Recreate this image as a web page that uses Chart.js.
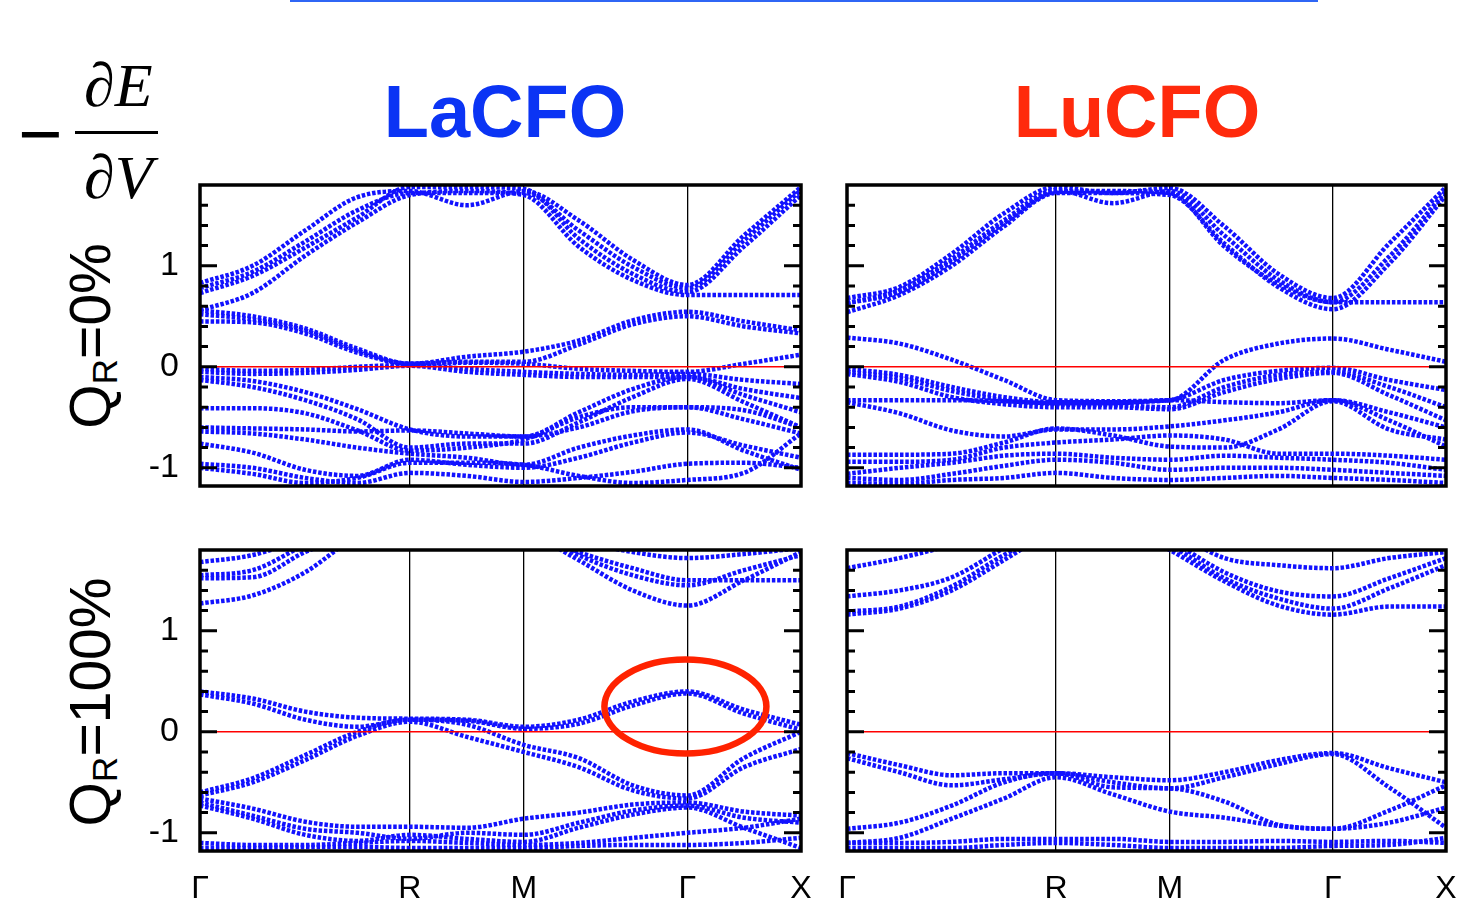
<!DOCTYPE html>
<html><head><meta charset="utf-8">
<script src="https://cdn.jsdelivr.net/npm/chart.js@4.4.1/dist/chart.umd.min.js"></script>
<style>
html,body{margin:0;padding:0;width:1464px;height:901px;overflow:hidden;background:#fff;font-family:"Liberation Sans",Arial,sans-serif;}
canvas{position:absolute;}
.t{position:absolute;white-space:nowrap;line-height:1;}
.title{font-weight:bold;font-size:74px;transform:translateX(-50%);}
.serif{font-family:"Liberation Serif","Times New Roman",serif;font-style:italic;font-size:62px;}
.rot{font-size:57px;transform:translate(-50%,-50%) rotate(-90deg);}
.rot sub{font-size:0.62em;line-height:0;vertical-align:-0.22em;}
</style></head><body>
<div style="position:absolute;left:290px;top:0;width:1028px;height:2px;background:#2f66f5"></div>
<div class="t title" style="left:505px;top:75px;color:#0b34f4">LaCFO</div>
<div class="t title" style="left:1137px;top:75px;color:#ff2a0c">LuCFO</div>
<div class="t" style="left:18px;top:96px;font-size:76px;">−</div>
<div class="t serif" style="left:84px;top:54px;">∂E</div>
<div style="position:absolute;left:75px;top:131px;width:83px;height:0;border-top:3.5px solid #000"></div>
<div class="t serif" style="left:84px;top:146px;">∂V</div>
<div class="t rot" style="left:90px;top:336px;">Q<sub>R</sub>=0%</div>
<div class="t rot" style="left:90px;top:702px;">Q<sub>R</sub>=100%</div>

<canvas id="cTL" width="700" height="321" style="left:120px;top:175px;width:700px;height:321px"></canvas>
<canvas id="cTR" width="637" height="321" style="left:827px;top:175px;width:637px;height:321px"></canvas>
<canvas id="cBL" width="700" height="370" style="left:120px;top:540px;width:700px;height:370px"></canvas>
<canvas id="cBR" width="637" height="370" style="left:827px;top:540px;width:637px;height:370px"></canvas>

<script>
// ---- k-path (fractional distance along Γ-R-M-Γ-X) ----
const kPoints = [0, 0.0875, 0.175, 0.262, 0.349, 0.444, 0.539, 0.63, 0.72, 0.811, 0.905, 1.0];
const kTicks  = [0, 0.349, 0.539, 0.811, 1.0];
const kLabels = ["Γ", "R", "M", "Γ", "X"];
const yMajorTicks = [-1, 0, 1];
const yMinorTicks = [-1, -0.8, -0.6, -0.4, -0.2, 0, 0.2, 0.4, 0.6, 0.8, 1, 1.2, 1.4, 1.6];
const fermiLevel = 0;
const highlight = {k: 0.811, e: 0.25}; // circled band maximum (LaCFO, QR=100%)

// ---- band energies (eV) at kPoints ----
const bandsLaQ0 = [
  [0.83, 1.00, 1.35, 1.68, 1.74, 1.60, 1.74, 1.45, 1.06, 0.81, 1.30, 1.78],
  [0.78, 0.94, 1.24, 1.55, 1.72, 1.72, 1.72, 1.35, 0.99, 0.78, 1.25, 1.75],
  [0.73, 0.90, 1.18, 1.48, 1.78, 1.78, 1.76, 1.27, 0.92, 0.74, 1.19, 1.70],
  [0.56, 0.73, 1.10, 1.43, 1.70, 1.74, 1.70, 1.19, 0.86, 0.71, 0.71, 0.71],
  [0.56, 0.50, 0.38, 0.18, 0.03, 0.10, 0.15, 0.26, 0.46, 0.545, 0.45, 0.36],
  [0.45, 0.44, 0.33, 0.14, 0.03, 0.05, 0.05, 0.22, 0.42, 0.50, 0.40, 0.33],
  [0.52, 0.47, 0.36, 0.16, 0.03, 0.04, 0.03, -0.02, -0.04, -0.05, 0.03, 0.12],
  [-0.02, -0.04, -0.03, 0.00, 0.02, -0.02, -0.05, -0.07, -0.08, -0.07, -0.13, -0.17],
  [-0.05, -0.07, -0.06, -0.03, 0.01, -0.05, -0.08, -0.10, -0.10, -0.10, -0.22, -0.31],
  [-0.10, -0.14, -0.25, -0.42, -0.62, -0.69, -0.69, -0.45, -0.22, -0.10, -0.28, -0.45],
  [-0.13, -0.20, -0.33, -0.52, -0.80, -0.76, -0.76, -0.55, -0.30, -0.12, -0.35, -0.60],
  [-0.41, -0.41, -0.46, -0.63, -0.83, -0.80, -0.72, -0.50, -0.40, -0.40, -0.43, -0.60],
  [-0.60, -0.61, -0.62, -0.64, -0.63, -0.66, -0.69, -0.60, -0.44, -0.40, -0.52, -0.66],
  [-0.64, -0.66, -0.72, -0.80, -0.86, -0.90, -0.97, -0.80, -0.68, -0.62, -0.83, -1.02],
  [-0.76, -0.85, -1.02, -1.08, -0.92, -0.97, -1.00, -0.90, -0.75, -0.65, -0.78, -0.90],
  [-0.96, -1.00, -1.10, -1.15, -1.05, -1.08, -1.14, -1.10, -1.04, -0.96, -0.95, -1.00],
  [-1.00, -1.06, -1.15, -1.10, -0.95, -0.95, -0.97, -1.08, -1.15, -1.12, -1.05, -0.66]
];
const bandsLuQ0 = [
  [0.68, 0.79, 1.12, 1.52, 1.78, 1.72, 1.77, 1.39, 0.92, 0.68, 1.22, 1.78],
  [0.63, 0.76, 1.07, 1.45, 1.75, 1.62, 1.74, 1.30, 0.86, 0.64, 1.09, 1.74],
  [0.54, 0.71, 1.00, 1.39, 1.72, 1.72, 1.70, 1.22, 0.79, 0.57, 1.02, 1.70],
  [0.63, 0.74, 1.04, 1.42, 1.73, 1.74, 1.72, 1.19, 0.82, 0.64, 0.64, 0.64],
  [0.29, 0.23, 0.07, -0.13, -0.33, -0.34, -0.33, 0.07, 0.23, 0.28, 0.17, 0.05],
  [-0.02, -0.08, -0.20, -0.30, -0.35, -0.35, -0.33, -0.13, -0.04, -0.01, -0.13, -0.23],
  [-0.05, -0.11, -0.24, -0.33, -0.37, -0.38, -0.40, -0.20, -0.08, -0.05, -0.20, -0.40],
  [-0.07, -0.15, -0.30, -0.37, -0.40, -0.40, -0.42, -0.25, -0.12, -0.06, -0.28, -0.53],
  [-0.33, -0.33, -0.33, -0.34, -0.36, -0.36, -0.33, -0.35, -0.36, -0.33, -0.53, -0.79],
  [-0.35, -0.46, -0.63, -0.69, -0.62, -0.62, -0.59, -0.53, -0.45, -0.33, -0.45, -0.60],
  [-0.87, -0.87, -0.86, -0.75, -0.61, -0.68, -0.79, -0.80, -0.62, -0.34, -0.62, -0.72],
  [-0.94, -0.94, -0.92, -0.80, -0.75, -0.72, -0.68, -0.72, -0.86, -0.86, -0.88, -0.92],
  [-1.06, -1.00, -0.95, -0.88, -0.86, -0.90, -0.92, -0.88, -0.90, -0.92, -0.95, -1.02],
  [-1.10, -1.12, -1.06, -0.98, -0.92, -0.95, -1.02, -1.00, -1.00, -1.02, -1.05, -1.08],
  [-1.15, -1.16, -1.12, -1.10, -1.05, -1.10, -1.12, -1.10, -1.08, -1.10, -1.12, -1.15]
];
const bandsLaQ100 = [
  [1.68, 1.75, 1.92, 2.10, 2.20, 2.20, 2.10, 1.90, 1.78, 1.72, 1.76, 1.82],
  [1.52, 1.53, 1.78, 1.98, 2.20, 2.20, 2.00, 1.78, 1.62, 1.50, 1.50, 1.50],
  [1.27, 1.35, 1.58, 1.95, 2.20, 2.20, 2.00, 1.70, 1.40, 1.25, 1.50, 1.78],
  [1.55, 1.60, 1.85, 2.05, 2.20, 2.20, 2.05, 1.75, 1.55, 1.45, 1.60, 1.75],
  [0.40, 0.33, 0.20, 0.14, 0.13, 0.12, 0.05, 0.12, 0.30, 0.40, 0.22, 0.07],
  [0.37, 0.28, 0.12, 0.05, 0.12, 0.11, 0.03, 0.08, 0.26, 0.38, 0.18, 0.02],
  [-0.60, -0.46, -0.23, 0.00, 0.12, 0.07, -0.13, -0.26, -0.53, -0.63, -0.26, 0.00],
  [-0.63, -0.50, -0.28, -0.04, 0.10, -0.05, -0.20, -0.35, -0.58, -0.66, -0.35, -0.17],
  [-0.66, -0.76, -0.89, -0.94, -0.94, -0.95, -0.86, -0.80, -0.72, -0.70, -0.79, -0.83],
  [-0.70, -0.83, -0.96, -1.00, -1.06, -1.00, -1.02, -0.90, -0.78, -0.73, -0.85, -0.90],
  [-0.73, -0.86, -1.02, -1.08, -1.02, -1.06, -1.09, -0.95, -0.82, -0.75, -0.95, -1.15],
  [-1.10, -1.12, -1.12, -1.10, -1.08, -1.10, -1.12, -1.10, -1.05, -1.00, -0.95, -0.86],
  [-1.15, -1.15, -1.14, -1.14, -1.15, -1.15, -1.15, -1.13, -1.12, -1.12, -1.10, -1.05]
];
const bandsLuQ100 = [
  [1.62, 1.72, 1.85, 2.00, 2.20, 2.20, 2.00, 1.72, 1.65, 1.62, 1.72, 1.78],
  [1.34, 1.40, 1.53, 1.82, 2.10, 2.20, 1.90, 1.58, 1.39, 1.34, 1.52, 1.72],
  [1.19, 1.24, 1.44, 1.75, 2.00, 2.10, 1.85, 1.52, 1.32, 1.22, 1.42, 1.65],
  [1.16, 1.22, 1.40, 1.70, 2.00, 2.10, 1.80, 1.49, 1.25, 1.16, 1.24, 1.24],
  [-0.21, -0.33, -0.43, -0.41, -0.41, -0.45, -0.48, -0.40, -0.28, -0.21, -0.36, -0.50],
  [-0.26, -0.40, -0.53, -0.47, -0.41, -0.50, -0.56, -0.45, -0.32, -0.22, -0.55, -0.95],
  [-0.96, -0.90, -0.73, -0.50, -0.41, -0.55, -0.56, -0.69, -0.92, -0.96, -0.78, -0.53],
  [-1.10, -1.05, -0.86, -0.66, -0.45, -0.62, -0.79, -0.85, -0.93, -0.96, -0.90, -0.75],
  [-1.10, -1.10, -1.09, -1.06, -1.06, -1.06, -1.09, -1.09, -1.08, -1.09, -1.08, -1.10],
  [-1.15, -1.15, -1.15, -1.12, -1.10, -1.12, -1.15, -1.15, -1.15, -1.13, -1.12, -1.05]
];

Chart.defaults.font.family = '"Liberation Sans", Arial, sans-serif';
Chart.defaults.animation = false;

const framePlugin = {
  id: 'frame',
  afterDatasetsDraw(chart, args, opts) {
    const {ctx, chartArea: a} = chart;
    const y = chart.scales.y, x = chart.scales.x;
    ctx.save();
    ctx.strokeStyle = '#000';
    ctx.lineWidth = 3;
    yMinorTicks.forEach(v => {
      const py = y.getPixelForValue(v);
      const L = yMajorTicks.includes(v) ? 17 : 8;
      ctx.beginPath();
      ctx.moveTo(a.left, py); ctx.lineTo(a.left + L, py);
      ctx.moveTo(a.right, py); ctx.lineTo(a.right - L, py);
      ctx.stroke();
    });
    ctx.lineWidth = 3.5;
    ctx.strokeRect(a.left, a.top, a.right - a.left, a.bottom - a.top);
    if (opts.ellipse) {
      ctx.strokeStyle = '#ff2200';
      ctx.lineWidth = 6.5;
      ctx.beginPath();
      ctx.ellipse(x.getPixelForValue(highlight.k) - 2, y.getPixelForValue(highlight.e), 81, 47, 0, 0, Math.PI * 2);
      ctx.stroke();
    }
    ctx.restore();
  }
};

function zeroPad(s) { s.paddingTop = 0; s.paddingBottom = 0; s.paddingLeft = 0; s.paddingRight = 0; }

function makeChart(id, bands, isLeft, isBottom, ellipse) {
  const datasets = [{
    data: [{x: 0, y: fermiLevel}, {x: 1, y: fermiLevel}],
    borderColor: '#ff0000', borderWidth: 1.6, pointRadius: 0, clip: 0
  }];
  bands.forEach(b => datasets.push({
    data: kPoints.map((k, i) => ({x: k, y: b[i]})),
    borderColor: '#1212ff', borderWidth: 4.5, borderDash: [3.5, 1.8],
    pointRadius: 0, cubicInterpolationMode: 'monotone', clip: 0
  }));
  return new Chart(document.getElementById(id), {
    type: 'line',
    data: {datasets},
    plugins: [framePlugin],
    options: {
      responsive: false,
      animation: false,
      events: [],
      layout: {padding: {left: isLeft ? 0 : 20, right: isLeft ? 19 : 18, top: 10, bottom: isBottom ? 0 : 10}},
      plugins: {legend: {display: false}, tooltip: {enabled: false}, frame: {ellipse}},
      scales: {
        x: {
          type: 'linear', min: 0, max: 1,
          afterBuildTicks: s => { s.ticks = kTicks.map(v => ({value: v})); },
          afterFit: s => { s.height = isBottom ? 59 : 0; zeroPad(s); },
          ticks: {display: isBottom, autoSkip: false, maxRotation: 0, minRotation: 0,
                  callback: (v, i) => kLabels[i], font: {size: 32}, color: '#000', padding: 19},
          grid: {color: '#000', lineWidth: 1.3, drawTicks: false},
          border: {display: false}
        },
        y: {
          type: 'linear', min: -1.18, max: 1.8, display: isLeft,
          afterBuildTicks: s => { s.ticks = yMajorTicks.map(v => ({value: v})); },
          afterFit: s => { s.width = isLeft ? 80 : 0; zeroPad(s); },
          ticks: {font: {size: 34}, color: '#000', padding: 21, callback: v => String(v)},
          grid: {display: false, drawTicks: false},
          border: {display: false}
        }
      }
    }
  });
}

makeChart('cTL', bandsLaQ0, true, false, false);
makeChart('cTR', bandsLuQ0, false, false, false);
makeChart('cBL', bandsLaQ100, true, true, true);
makeChart('cBR', bandsLuQ100, false, true, false);
</script>
</body></html>
